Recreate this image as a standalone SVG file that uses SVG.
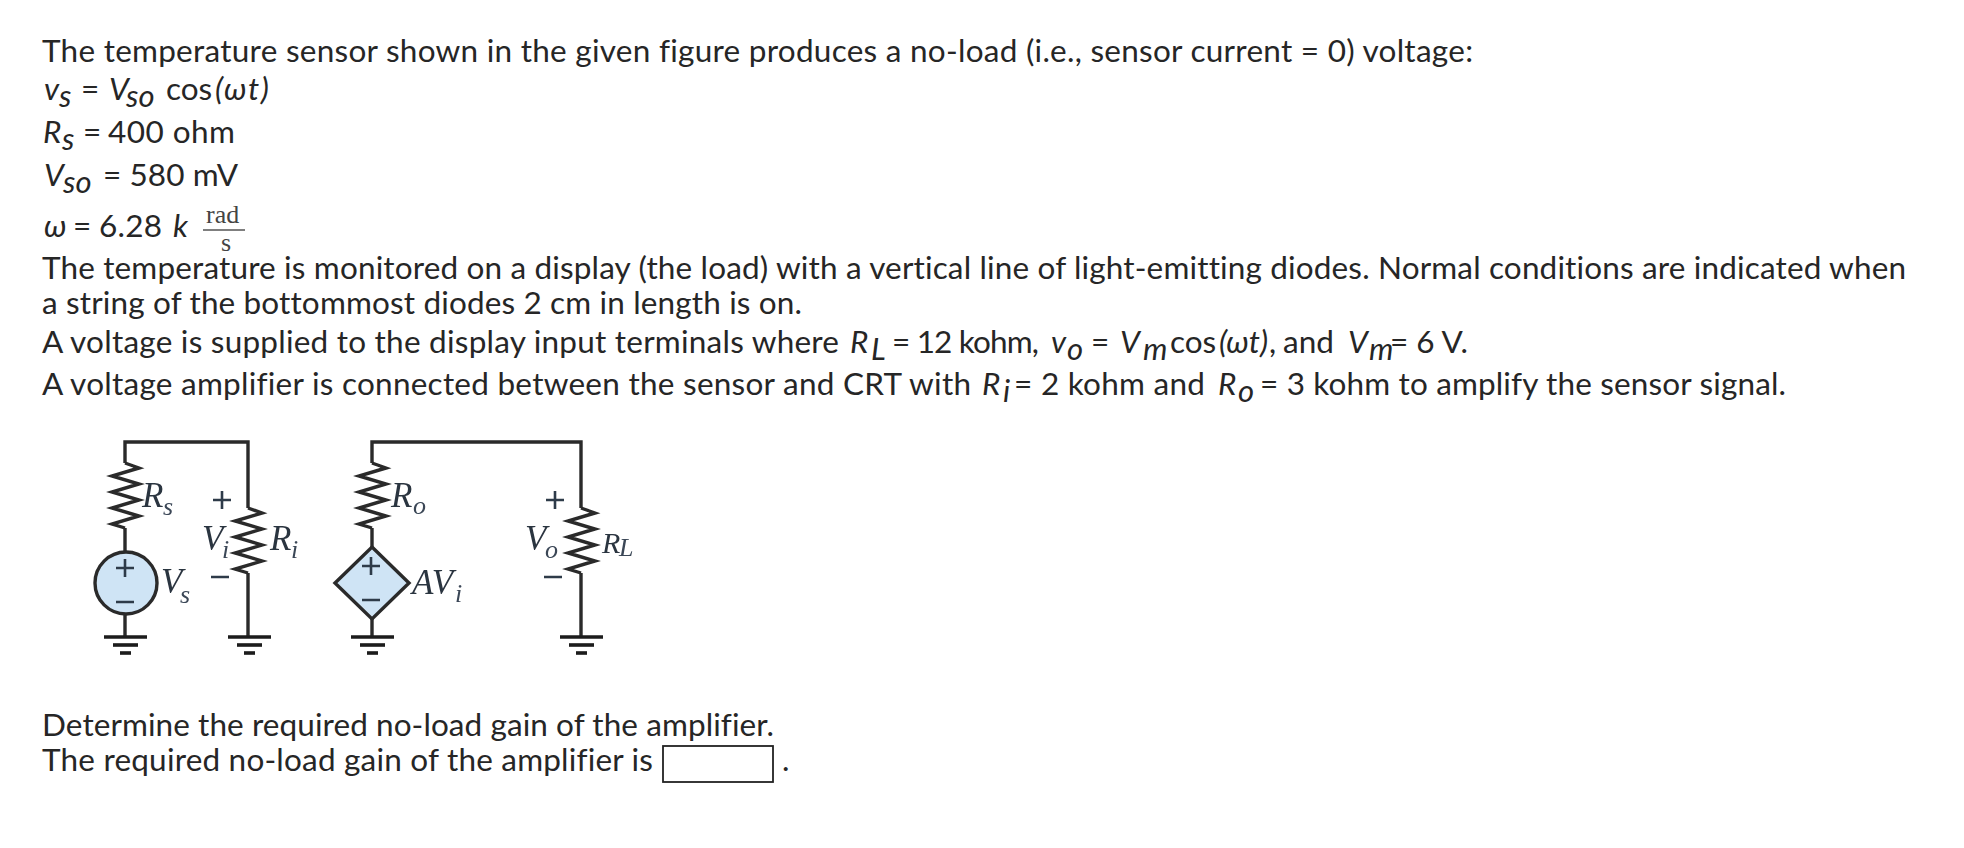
<svg xmlns="http://www.w3.org/2000/svg" xmlns:xlink="http://www.w3.org/1999/xlink" width="1964" height="848" viewBox="0 0 1964 848">
<style>
text{font-family:"Lato","Open Sans","Liberation Sans",sans-serif;font-size:31.5px;fill:#262626;font-variant-ligatures:none}
.i{font-style:italic}
.sub{font-style:italic;font-size:31px}
.ser{font-family:"Liberation Serif","Times New Roman",serif;font-size:26px;fill:#444}
.c{font-family:"Liberation Serif","Times New Roman",serif;font-style:italic;font-size:35px;fill:#2c3440}
.cs{font-family:"Liberation Serif","Times New Roman",serif;font-style:italic;font-size:26px;fill:#3a4656}
.w{fill:none;stroke:#2a2a2a;stroke-width:3.4}
.g{fill:none;stroke:#1e1e1e;stroke-width:3.6}
.src{fill:#cfe4f5;stroke:#2a2a2a;stroke-width:3.4}
.sg{fill:none;stroke:#2e3a48;stroke-width:2.6}
</style>
<defs>
<filter id="soft" x="-5%" y="-5%" width="110%" height="110%"><feGaussianBlur stdDeviation="0.55"/></filter>
<polyline id="zig" class="w" points="0,0 14,5 -13,13 14,21 -13,29 14,37 -13,45 14,53 -13,61 0,65"/>
<g id="gnd"><line class="g" x1="-21" y1="637" x2="22" y2="637"/><line class="g" x1="-12" y1="645" x2="13" y2="645"/><line class="g" x1="-5" y1="653" x2="6" y2="653"/></g>
</defs>
<g id="problem-text">
<text x="42" y="62" textLength="1431" lengthAdjust="spacing">The temperature sensor shown in the given figure produces a no-load (i.e., sensor current = 0) voltage:</text>
<text class="i" x="44" y="100">v</text><text class="sub" x="59" y="107">s</text><text x="81" y="100">=</text><text class="i" x="109" y="100">V</text><text class="sub" x="126" y="107">so</text><text x="166" y="100">cos</text><text class="i" x="215" y="100" textLength="54">(ωt)</text>
<text class="i" x="43" y="143">R</text><text class="sub" x="62" y="150">s</text><text x="83" y="143">=</text><text x="108" y="143" textLength="127">400 ohm</text>
<text class="i" x="44" y="186">V</text><text class="sub" x="63" y="193">so</text><text x="103" y="186" textLength="135">= 580 mV</text>
<text class="i" x="44" y="237">ω</text><text x="73" y="237">=</text><text x="99" y="237" textLength="63">6.28</text><text class="i" x="173" y="237">k</text>
<text class="ser" x="206" y="223">rad</text><line x1="203" y1="230" x2="245" y2="230" stroke="#555" stroke-width="1.5"/><text class="ser" x="221" y="251">s</text>
<text x="42" y="279" textLength="1864" lengthAdjust="spacing">The temperature is monitored on a display (the load) with a vertical line of light-emitting diodes. Normal conditions are indicated when</text>
<text x="42" y="314" textLength="760" lengthAdjust="spacing">a string of the bottommost diodes 2 cm in length is on.</text>
<text x="42" y="353" textLength="797" lengthAdjust="spacing">A voltage is supplied to the display input terminals where</text>
<text class="i" x="850" y="353">R</text><text class="sub" x="871" y="360">L</text><text x="892" y="353" textLength="147">= 12 kohm,</text>
<text class="i" x="1051" y="353">v</text><text class="sub" x="1067" y="360">o</text><text x="1091" y="353">=</text><text class="i" x="1120" y="353">V</text><text class="sub" x="1143" y="360">m</text>
<text x="1170" y="353">cos</text><text class="i" x="1219" y="353">(ωt)</text><text x="1269" y="353">,</text><text x="1283" y="353">and</text>
<text class="i" x="1348" y="353">V</text><text class="sub" x="1369" y="360">m</text><text x="1390" y="353">= 6 V.</text>
<text x="42" y="395" textLength="929" lengthAdjust="spacing">A voltage amplifier is connected between the sensor and CRT with</text>
<text class="i" x="982" y="395">R</text><text class="sub" x="1003" y="402">i</text><text x="1014" y="395" textLength="191">= 2 kohm and</text>
<text class="i" x="1218" y="395">R</text><text class="sub" x="1238" y="402">o</text><text x="1260" y="395" textLength="526" lengthAdjust="spacing">= 3 kohm to amplify the sensor signal.</text>
<text x="42" y="736" textLength="732" lengthAdjust="spacing">Determine the required no-load gain of the amplifier.</text>
<text x="42" y="771" textLength="611" lengthAdjust="spacing">The required no-load gain of the amplifier is</text>
<rect id="answer-box" x="663" y="746" width="110" height="36" fill="#fff" stroke="#222" stroke-width="1.8"/>
<text x="782" y="771">.</text>
</g>
<g id="circuit" filter="url(#soft)">
<g id="connectors">
<path class="w" d="M125 463V442H248V508M125 528V552M125 614V637M248 573V637"/>
<path class="w" d="M372 463V442H581V508M372 528V547M372 619V637M581 573V637"/>
</g>
<g id="Rs"><use xlink:href="#zig" href="#zig" x="125" y="463"/><text class="c" x="142" y="507">R</text><text class="cs" x="163" y="515">s</text></g>
<g id="Vs"><circle class="src" cx="126" cy="583" r="31"/><path class="sg" d="M116 568H134M125 559V577M116 602H134"/><text class="c" x="161" y="593">V</text><text class="cs" x="180" y="603">s</text></g>
<g id="gnd1"><use xlink:href="#gnd" href="#gnd" x="125"/></g>
<g id="Ri"><use xlink:href="#zig" href="#zig" x="248" y="508"/><text class="c" x="270" y="550">R</text><text class="cs" x="291" y="558">i</text></g>
<g id="Vi"><path class="sg" d="M213 500H231M222 491V509M211 577H229"/><text class="c" x="202" y="550">V</text><text class="cs" x="222" y="558">i</text></g>
<g id="gnd2"><use xlink:href="#gnd" href="#gnd" x="249"/></g>
<g id="Ro"><use xlink:href="#zig" href="#zig" x="372" y="463"/><text class="c" x="391" y="507">R</text><text class="cs" x="413" y="514">o</text></g>
<g id="AVi"><polygon class="src" points="372,547 409,583 372,619 335,583"/><path class="sg" d="M362 566H380M371 557V575M362 600H380"/><text class="c" x="412" y="594">AV</text><text class="cs" x="455" y="602">i</text></g>
<g id="gnd3"><use xlink:href="#gnd" href="#gnd" x="372"/></g>
<g id="RL"><use xlink:href="#zig" href="#zig" x="581" y="508"/><text class="c" x="602" y="553" style="font-size:30px">R</text><text class="cs" x="619" y="556">L</text></g>
<g id="Vo"><path class="sg" d="M546 500H564M555 491V509M544 577H562"/><text class="c" x="525" y="550">V</text><text class="cs" x="545" y="558">o</text></g>
<g id="gnd4"><use xlink:href="#gnd" href="#gnd" x="581"/></g>
</g>
</svg>
